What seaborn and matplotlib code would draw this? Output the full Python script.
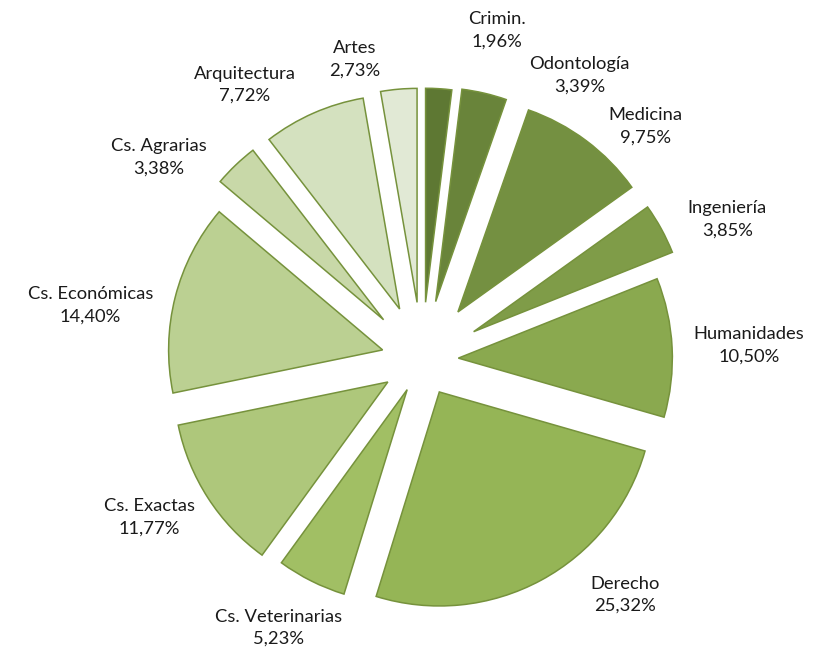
import matplotlib
matplotlib.use('Agg')
import numpy as np
import seaborn as sb
import matplotlib.pyplot as plt

# share of graduates per area, clockwise from 12 o'clock
areas = ['Crimin.', 'Odontología', 'Medicina', 'Ingeniería', 'Humanidades', 'Derecho',
         'Cs. Veterinarias', 'Cs. Exactas', 'Cs. Económicas', 'Cs. Agrarias',
         'Arquitectura', 'Artes']
shares = [1.96, 3.39, 9.75, 3.85, 10.50, 25.32, 5.23, 11.77, 14.40, 3.38, 7.72, 2.73]

# per-slice explode, the top ones are pulled out further
explode = [0.27, 0.28, 0.28, 0.275, 0.17, 0.17, 0.155, 0.19, 0.19, 0.26, 0.26, 0.27]
# label placement tweaks: degrees clockwise off the bisector, and distance from the centre
label_nudge = [9.3, 15.8, 6.9, 4.0, 0.3, -12.4, 1.6, 2.8, -4.9, -8.7, -9.1, -7.7]
label_dist = [1.58, 1.52, 1.51, 1.57, 1.53, 1.45, 1.42, 1.47, 1.57, 1.55, 1.53, 1.44]

sb.set_theme(style='white')
plt.rcParams['font.family'] = ['Lato', 'DejaVu Sans']

colors = sb.blend_palette(['#5e7833', '#9bbb59', '#e1e9d5'], n_colors=len(areas))
labels = [a + '\n' + ('%.2f%%' % s).replace('.', ',') for a, s in zip(areas, shares)]

fig = plt.figure(figsize=(8.13, 6.57), dpi=100)
ax = fig.add_axes([0, 0, 1, 1])
wedges, texts = ax.pie(shares, labels=labels, colors=colors, explode=explode,
                       startangle=90, counterclock=False, labeldistance=1.3,
                       wedgeprops=dict(edgecolor='#76923c', linewidth=1.1),
                       textprops=dict(fontsize=13.2, color='#1a1a1a'))

for w, t, n, d in zip(wedges, texts, label_nudge, label_dist):
    ang = np.deg2rad((w.theta1 + w.theta2) / 2 - n)
    t.set_position((d * np.cos(ang), d * np.sin(ang)))
    t.set_horizontalalignment('center')
    t.set_verticalalignment('center')
    t.set_multialignment('center')
    t.set_linespacing(1.48)

ax.set_xlim(-1.972, 1.827)
ax.set_ylim(-1.388, 1.682)
ax.set_aspect('equal')
ax.axis('off')

fig.savefig('out.png', dpi=100)
